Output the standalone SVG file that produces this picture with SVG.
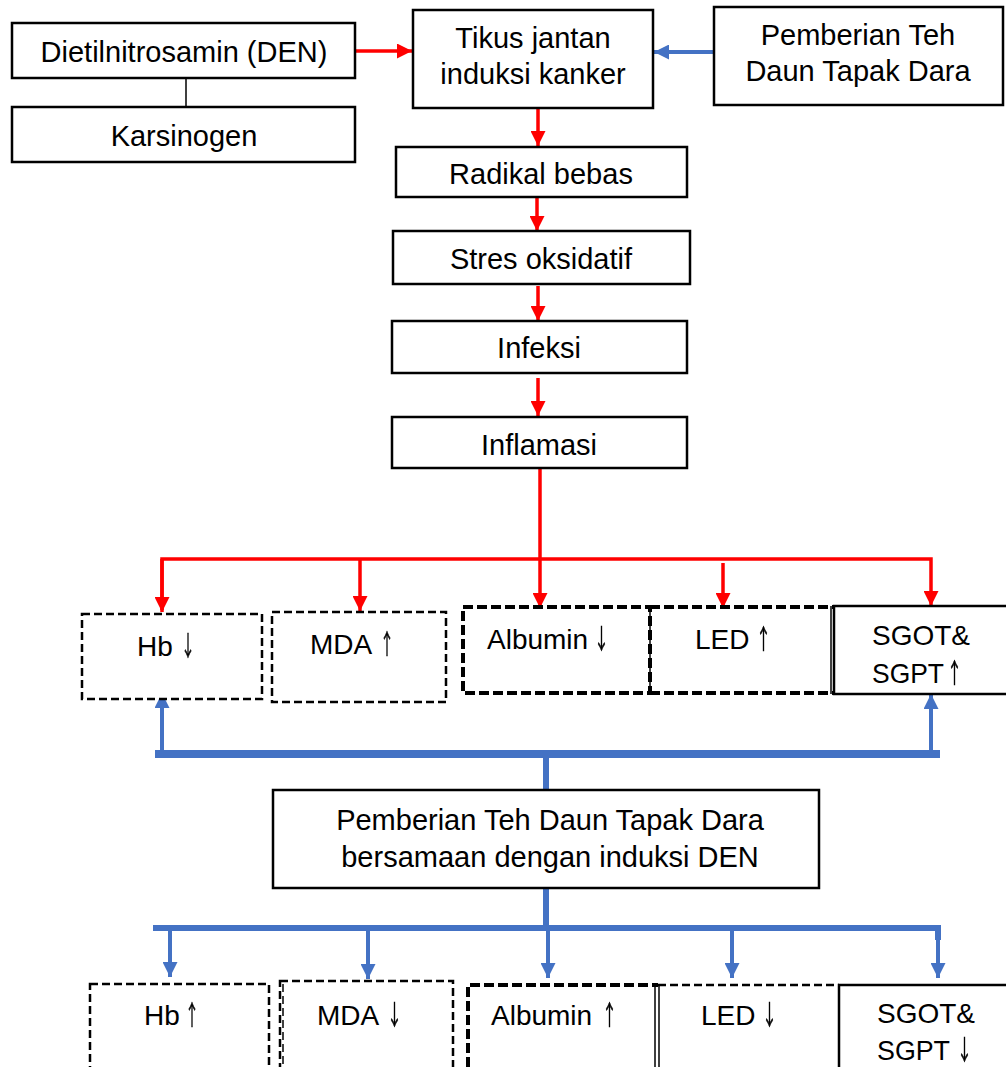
<svg xmlns="http://www.w3.org/2000/svg" width="1006" height="1067" viewBox="0 0 1006 1067">
<style>
.box{fill:#fff;stroke:#000;stroke-width:2.5}
.dash{fill:#fff;stroke:#000;stroke-width:2.5;stroke-dasharray:8 4}
.dashb{fill:none;stroke:#000;stroke-width:4;stroke-dasharray:10 4}
.thin{fill:none;stroke:#000;stroke-width:1.5}
text{font-family:"Liberation Sans",Arial,sans-serif;font-size:29px;fill:#000;text-anchor:middle}
.sm{font-size:28px;text-anchor:start}
.arw{font-family:"Noto Sans CJK JP","Noto Sans CJK SC",sans-serif;font-size:27px;text-anchor:start;stroke:#000;stroke-width:0.6;opacity:0.99;filter:url(#gs)}
.red{fill:none;stroke:#FF0000;stroke-width:3.5}
.blue{fill:none;stroke:#4472C4;stroke-width:4}
.bluew{fill:none;stroke:#4472C4;stroke-width:8}
</style>
<defs>
<filter id="gs" color-interpolation-filters="sRGB"><feColorMatrix type="saturate" values="0"/></filter>
<marker id="ar" markerUnits="userSpaceOnUse" markerWidth="15" markerHeight="15" refX="15" refY="7.5" orient="auto"><path d="M0,0 L15,7.5 L0,15 z" fill="#FF0000"/></marker>
<marker id="ab" markerUnits="userSpaceOnUse" markerWidth="15" markerHeight="15" refX="15" refY="7.5" orient="auto"><path d="M0,0 L15,7.5 L0,15 z" fill="#4472C4"/></marker>
</defs>
<rect width="1006" height="1067" fill="#fff"/>
<g id="connectors">
<line class="thin" x1="186" y1="78" x2="186" y2="107"/>
<line class="red" x1="355" y1="51" x2="412" y2="51" marker-end="url(#ar)"/>
<line class="blue" x1="714" y1="52" x2="654" y2="52" marker-end="url(#ab)"/>
<line class="red" x1="538" y1="108" x2="538" y2="146" marker-end="url(#ar)"/>
<line class="red" x1="537" y1="197" x2="537" y2="231" marker-end="url(#ar)"/>
<line class="red" x1="538" y1="286" x2="538" y2="321" marker-end="url(#ar)"/>
<line class="red" x1="538" y1="378" x2="538" y2="416" marker-end="url(#ar)"/>
<line class="red" x1="540" y1="468" x2="540" y2="608" marker-end="url(#ar)"/>
<polyline class="red" points="162,610 162,559 931,559 931,606" marker-end="url(#ar)"/>
<line class="red" x1="162" y1="559" x2="162" y2="612" marker-end="url(#ar)"/>
<line class="red" x1="360" y1="559" x2="360" y2="611" marker-end="url(#ar)"/>
<line class="red" x1="723" y1="563" x2="723" y2="608" marker-end="url(#ar)"/>
<line class="bluew" x1="155" y1="754" x2="940" y2="754"/>
<line class="blue" x1="162" y1="750" x2="162" y2="693" marker-end="url(#ab)"/>
<line class="blue" x1="931" y1="750" x2="931" y2="694" marker-end="url(#ab)"/>
<line class="blue" style="stroke-width:6" x1="546" y1="758" x2="546" y2="790"/>
<line class="blue" style="stroke-width:6" x1="546" y1="888" x2="546" y2="928"/>
<polyline class="blue" style="stroke-width:6" points="153,928 938,928 938,940"/>
<line class="blue" x1="170" y1="926" x2="170" y2="977" marker-end="url(#ab)"/>
<line class="blue" x1="368" y1="926" x2="368" y2="979" marker-end="url(#ab)"/>
<line class="blue" x1="548" y1="926" x2="548" y2="978" marker-end="url(#ab)"/>
<line class="blue" x1="732" y1="926" x2="732" y2="978" marker-end="url(#ab)"/>
<line class="blue" x1="938" y1="926" x2="938" y2="978" marker-end="url(#ab)"/>
</g>
<g id="den"><rect class="box" x="12" y="23" width="343" height="55"/><text x="184" y="62">Dietilnitrosamin (DEN)</text></g>
<g id="karsinogen"><rect class="box" x="12" y="107" width="343" height="55"/><text x="184" y="146">Karsinogen</text></g>
<g id="tikus"><rect class="box" x="413" y="10" width="240" height="98"/><text x="533" y="48">Tikus jantan</text><text x="533" y="84">induksi kanker</text></g>
<g id="teh"><rect class="box" x="714" y="7" width="289" height="98"/><text x="858" y="45">Pemberian Teh</text><text x="858" y="81">Daun Tapak Dara</text></g>
<g id="radikal"><rect class="box" x="396" y="147" width="291" height="50"/><text x="541" y="184">Radikal bebas</text></g>
<g id="stres"><rect class="box" x="393" y="231" width="297" height="53"/><text x="541" y="269">Stres oksidatif</text></g>
<g id="infeksi"><rect class="box" x="392" y="321" width="295" height="52"/><text x="539" y="358">Infeksi</text></g>
<g id="inflamasi"><rect class="box" x="392" y="417" width="295" height="51"/><text x="539" y="455">Inflamasi</text></g>
<g id="hb1"><rect class="dash" x="82" y="614" width="180" height="85"/><text class="sm" x="137" y="656">Hb</text><text class="arw" x="181" y="656" textLength="14" lengthAdjust="spacingAndGlyphs">↓</text></g>
<g id="mda1"><rect class="dash" x="272" y="612" width="174" height="90"/><text class="sm" x="310" y="654">MDA</text><text class="arw" x="380" y="654" textLength="14" lengthAdjust="spacingAndGlyphs">↑</text></g>
<g id="albumin1"><rect class="dashb" x="463" y="607" width="187" height="86"/><line class="thin" x1="650" y1="607" x2="650" y2="693"/><text class="sm" x="487" y="649">Albumin</text><text class="arw" x="594" y="649" textLength="15" lengthAdjust="spacingAndGlyphs">↓</text></g>
<g id="led1"><path class="dashb" d="M650,607 H833 M650,693 H833"/><text class="sm" x="695" y="649">LED</text><text class="arw" x="756" y="649" textLength="15" lengthAdjust="spacingAndGlyphs">↑</text></g>
<g id="sgot1"><rect class="box" x="834" y="606" width="180" height="88"/><line class="thin" x1="831" y1="606" x2="831" y2="694"/><text class="sm" x="872" y="645">SGOT&amp;</text><text class="sm" x="872" y="683" textLength="72" lengthAdjust="spacingAndGlyphs">SGPT</text><text class="arw" x="947" y="683" textLength="15" lengthAdjust="spacingAndGlyphs">↑</text></g>
<g id="teh2"><rect class="box" x="273" y="790" width="546" height="98"/><text x="550" y="830">Pemberian Teh Daun Tapak Dara</text><text x="550" y="867">bersamaan dengan induksi DEN</text></g>
<g id="hb2"><rect class="dash" x="90" y="984" width="179" height="100"/><text class="sm" x="144" y="1025">Hb</text><text class="arw" x="185" y="1025" textLength="14" lengthAdjust="spacingAndGlyphs">↑</text></g>
<g id="mda2"><rect class="dash" x="280" y="981" width="173" height="100"/><line class="thin" style="stroke-dasharray:8 4" x1="283" y1="984" x2="283" y2="1067"/><text class="sm" x="317" y="1025">MDA</text><text class="arw" x="387" y="1025" textLength="15" lengthAdjust="spacingAndGlyphs">↓</text></g>
<g id="albumin2"><path class="dashb" d="M468,1067 V985 H658"/><line class="thin" x1="655" y1="985" x2="655" y2="1067"/><line class="thin" x1="659" y1="985" x2="659" y2="1067"/><text class="sm" x="491" y="1025">Albumin</text><text class="arw" x="602" y="1025" textLength="15" lengthAdjust="spacingAndGlyphs">↑</text></g>
<g id="led2"><path class="dash" style="fill:none" d="M658,985 H839"/><text class="sm" x="701" y="1025">LED</text><text class="arw" x="762" y="1025" textLength="15" lengthAdjust="spacingAndGlyphs">↓</text></g>
<g id="sgot2"><rect class="box" x="839" y="985" width="180" height="100"/><text class="sm" x="877" y="1023">SGOT&amp;</text><text class="sm" x="877" y="1060" textLength="73" lengthAdjust="spacingAndGlyphs">SGPT</text><text class="arw" x="957" y="1060" textLength="15" lengthAdjust="spacingAndGlyphs">↓</text></g>
</svg>
